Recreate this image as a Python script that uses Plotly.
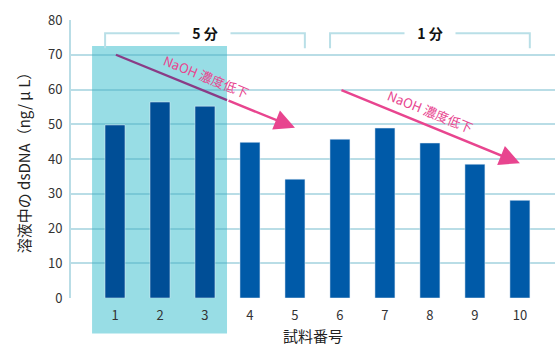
import plotly.graph_objects as go

# Sample numbers and dsDNA concentration (ng/uL)
samples = [1, 2, 3, 4, 5, 6, 7, 8, 9, 10]
dsdna = [49.8, 56.4, 55.2, 44.8, 34.2, 45.7, 48.9, 44.6, 38.5, 28.1]
tick_text = ["1", "2", "3", "4", "5", "6", "7", "8", "9", "10"]

# Group definitions: (label, first sample, last sample)
groups = [("5 分", 1, 5), ("1 分", 6, 10)]
# Trend arrows: (x start, y start, x end, y end)
arrows = [(1.02, 70.0, 5.0, 49.0), (6.0, 60.0, 10.0, 38.8)]
arrow_label = "NaOH 濃度低下"

FONT = "Noto Sans CJK JP"
PINK = "#e8458f"
PURPLE = "#8a3c86"
HILITE = "#98dde5"
GRID = "rgba(70,165,190,0.38)"
BRACKET = "#b9dfe7"
HILITE_X = (0.49, 3.49)

bar_colors = ["#004e96" if s <= 3 else "#005aa8" for s in samples]

fig = go.Figure()
fig.add_trace(go.Bar(
    x=samples, y=dsdna, marker_color=bar_colors, width=0.444,
    hoverinfo="x+y", showlegend=False,
))

shapes = []
# highlighted block behind samples 1-3, reaching down over the tick labels
shapes.append(dict(type="rect", layer="below", xref="x", yref="paper",
                   x0=HILITE_X[0], x1=HILITE_X[1], y0=-0.128, y1=72.5 / 80,
                   fillcolor=HILITE, line_width=0))

annotations = []
# brackets with group labels
for label, a, b in groups:
    xl, xr = a - 0.22, b + 0.22
    ytop, ybot = 76.2, 71.9
    shapes.append(dict(type="path", xref="x", yref="y",
                       path=f"M {xl},{ybot} L {xl},{ytop} L {xr},{ytop} L {xr},{ybot}",
                       line=dict(color=BRACKET, width=2)))
    annotations.append(dict(x=(a + b) / 2, y=ytop, xref="x", yref="y",
                            text=f"<b>{label}</b>", showarrow=False,
                            bgcolor="white", borderpad=1, width=48,
                            font=dict(family=FONT, size=14, color="#111")))

# trend arrows with rotated labels; where an arrow crosses the highlight block
# its shaft is drawn in a darker, blended tone
for x0, y0, x1, y1 in arrows:
    xs, ys = x0, y0
    if x0 < HILITE_X[1]:
        xs = HILITE_X[1]
        ys = y0 + (y1 - y0) * (xs - x0) / (x1 - x0)
        shapes.append(dict(type="line", xref="x", yref="y", x0=x0, y0=y0, x1=xs, y1=ys,
                           line=dict(color=PURPLE, width=2.4)))
    annotations.append(dict(x=x1, y=y1, ax=xs, ay=ys, xref="x", yref="y",
                            axref="x", ayref="y", text="", showarrow=True,
                            arrowhead=2, arrowsize=1.7, arrowwidth=2.4,
                            arrowcolor=PINK, standoff=0))
    annotations.append(dict(x=x0 + (x1 - x0) * 0.5, y=y0 + (y1 - y0) * 0.5,
                            xref="x", yref="y", text=arrow_label, showarrow=False,
                            textangle=22, yshift=15, xshift=1,
                            font=dict(family=FONT, size=13, color=PINK)))

fig.update_layout(
    width=555, height=352,
    margin=dict(l=71, r=0, t=20, b=54),
    paper_bgcolor="white", plot_bgcolor="rgba(0,0,0,0)",
    font=dict(family=FONT, size=13, color="#333"),
    bargap=0.556,
    shapes=shapes, annotations=annotations,
    xaxis=dict(range=[0.022, 10.78], tickvals=samples, ticktext=tick_text,
               showgrid=False, zeroline=False, showline=False,
               ticks="outside", ticklen=5, tickcolor="rgba(0,0,0,0)",
               tickfont=dict(size=13, color="#333"),
               title=dict(text="試料番号", font=dict(size=15, color="#222"), standoff=8)),
    yaxis=dict(range=[0, 80], dtick=10, showgrid=True, gridcolor=GRID, gridwidth=2,
               zeroline=False, showline=True, linecolor=GRID, linewidth=2,
               ticks="outside", ticklen=4, tickcolor="rgba(0,0,0,0)",
               tickfont=dict(size=13, color="#333"),
               title=dict(text="溶液中の dsDNA（ng/ μ L）", font=dict(size=15, color="#222"),
                          standoff=14)),
)

fig.write_html("out.html")
